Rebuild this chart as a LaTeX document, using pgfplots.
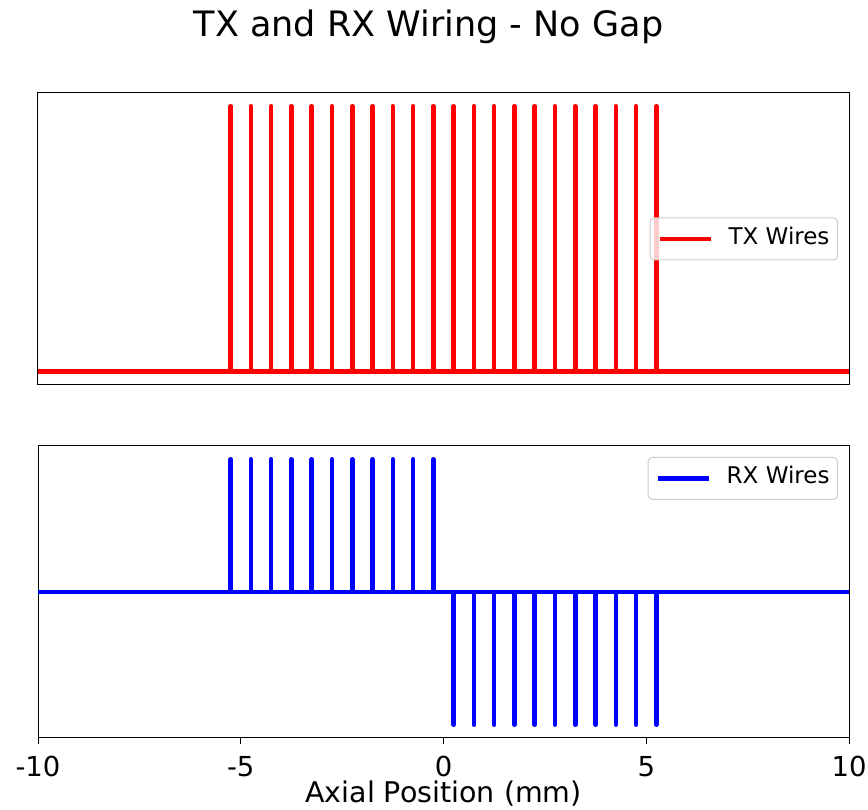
\documentclass[border=0pt]{standalone}
\usepackage{fontspec}
\setmainfont{DejaVu Sans}
\usepackage{pgfplots}
\pgfplotsset{compat=1.18}
\pgfplotsset{
  panel/.style={
    scale only axis, width=811pt, height=292pt,
    xmin=-10, xmax=10,
    axis line style={line width=1pt, black},
    clip=true,
    legend image code/.code={\draw[##1] (0pt,0pt) -- (51pt,0pt);},
    legend style={draw=black!20, line width=1pt, rounded corners=4pt, fill=white, fill opacity=0.8, text opacity=1,
      font=\fontsize{23}{27}\selectfont, inner xsep=8pt, inner ysep=9.5pt, column sep=15pt,
      nodes={inner sep=0pt, text height=17pt, text depth=6pt}},
    legend cell align=left,
  },
  wire/.style={line width=4.5pt, line join=round, line cap=butt},
}
\begin{document}
\begin{tikzpicture}
\path[use as bounding box] (0,0) rectangle (868pt,810pt);
\node[anchor=base, font=\fontsize{35}{42}\selectfont] at (428.5pt,773.3pt) {TX and RX Wiring - No Gap};

\begin{axis}[panel, at={(38pt,425pt)}, anchor=south west,
  ymin=-0.05, ymax=1.05, xtick=\empty, ytick=\empty,
  legend style={at={(0.9864,0.5)}, anchor=east}]
\addlegendimage{red, line width=4.5pt}
\addlegendentry{TX Wires}
\addplot[red, wire, forget plot] coordinates {
(-10,0) (-5.25,0) (-5.25,1) (-5.25,0) (-4.75,0) (-4.75,1) (-4.75,0)
(-4.25,0) (-4.25,1) (-4.25,0) (-3.75,0) (-3.75,1) (-3.75,0)
(-3.25,0) (-3.25,1) (-3.25,0) (-2.75,0) (-2.75,1) (-2.75,0)
(-2.25,0) (-2.25,1) (-2.25,0) (-1.75,0) (-1.75,1) (-1.75,0)
(-1.25,0) (-1.25,1) (-1.25,0) (-0.75,0) (-0.75,1) (-0.75,0)
(-0.25,0) (-0.25,1) (-0.25,0) (0.25,0) (0.25,1) (0.25,0)
(0.75,0) (0.75,1) (0.75,0) (1.25,0) (1.25,1) (1.25,0)
(1.75,0) (1.75,1) (1.75,0) (2.25,0) (2.25,1) (2.25,0)
(2.75,0) (2.75,1) (2.75,0) (3.25,0) (3.25,1) (3.25,0)
(3.75,0) (3.75,1) (3.75,0) (4.25,0) (4.25,1) (4.25,0)
(4.75,0) (4.75,1) (4.75,0) (5.25,0) (5.25,1) (5.25,0) (10,0)
};
\end{axis}

\begin{axis}[panel, at={(38pt,72pt)}, anchor=south west,
  ymin=-1.1, ymax=1.1, ytick=\empty,
  xtick={-10,-5,0,5,10}, xticklabels={-10,-5,0,5,10},
  xtick pos=left, tick align=outside, major tick length=6pt,
  every tick/.style={black, line width=1pt},
  xticklabel style={font=\fontsize{27.5}{33}\selectfont, anchor=base, yshift=-33pt},
  xlabel={Axial Position (mm)},
  xlabel style={at={(axis description cs:0.5,0)}, anchor=base, yshift=-65pt, font=\fontsize{28.5}{33}\selectfont},
  legend style={at={(0.9864,0.9625)}, anchor=north east}]
\addlegendimage{blue, line width=4.5pt}
\addlegendentry{RX Wires}
\addplot[blue, wire, forget plot] coordinates {
(-10,0) (-5.25,0) (-5.25,1) (-5.25,0) (-4.75,0) (-4.75,1) (-4.75,0)
(-4.25,0) (-4.25,1) (-4.25,0) (-3.75,0) (-3.75,1) (-3.75,0)
(-3.25,0) (-3.25,1) (-3.25,0) (-2.75,0) (-2.75,1) (-2.75,0)
(-2.25,0) (-2.25,1) (-2.25,0) (-1.75,0) (-1.75,1) (-1.75,0)
(-1.25,0) (-1.25,1) (-1.25,0) (-0.75,0) (-0.75,1) (-0.75,0)
(-0.25,0) (-0.25,1) (-0.25,0) (0.25,0) (0.25,-1) (0.25,0)
(0.75,0) (0.75,-1) (0.75,0) (1.25,0) (1.25,-1) (1.25,0)
(1.75,0) (1.75,-1) (1.75,0) (2.25,0) (2.25,-1) (2.25,0)
(2.75,0) (2.75,-1) (2.75,0) (3.25,0) (3.25,-1) (3.25,0)
(3.75,0) (3.75,-1) (3.75,0) (4.25,0) (4.25,-1) (4.25,0)
(4.75,0) (4.75,-1) (4.75,0) (5.25,0) (5.25,-1) (5.25,0) (10,0)
};
\end{axis}
\end{tikzpicture}
\end{document}
